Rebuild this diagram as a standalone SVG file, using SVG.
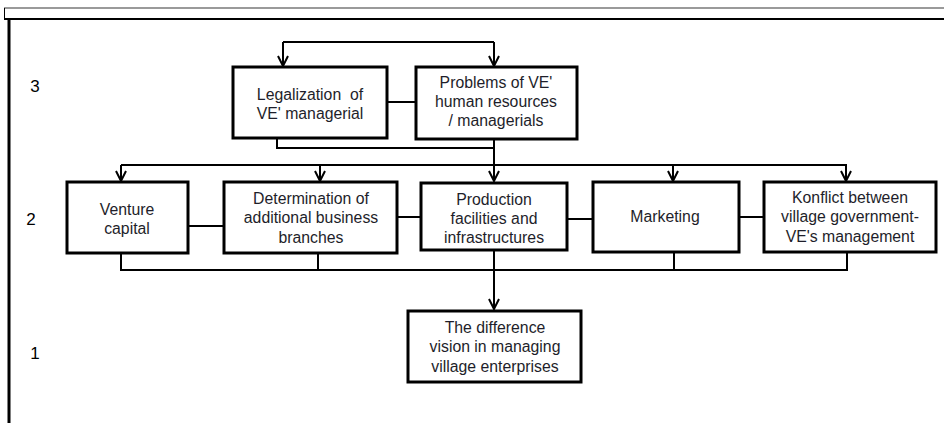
<svg xmlns="http://www.w3.org/2000/svg" width="944" height="423" viewBox="0 0 944 423">
<style>
.box{fill:#fff;stroke:#000;stroke-width:3}
.ln{fill:none;stroke:#000;stroke-width:2}
.t{font-family:"Liberation Sans",Arial,sans-serif;font-size:15.8px;fill:#1e1e2a;text-anchor:middle}
.n{font-family:"Liberation Sans",Arial,sans-serif;font-size:17px;fill:#000;text-anchor:middle}
</style>
<defs>
<marker id="ah" viewBox="0 0 12 12" refX="11" refY="6" markerWidth="12" markerHeight="12" markerUnits="userSpaceOnUse" orient="auto">
<path d="M1,1 L11,6 L1,11" fill="none" stroke="#000" stroke-width="2"/>
</marker>
</defs>
<rect width="944" height="423" fill="#fff"/>
<g id="frame">
<line x1="4" y1="8" x2="944" y2="8" stroke="#9a9a9a" stroke-width="2"/>
<line x1="4.5" y1="8" x2="4.5" y2="19" stroke="#000" stroke-width="1"/>
<line x1="4" y1="19" x2="944" y2="19" stroke="#000" stroke-width="2"/>
<line x1="9" y1="19" x2="9" y2="423" stroke="#000" stroke-width="3"/>
</g>
<g id="levels">
<text class="n" x="35" y="92">3</text>
<text class="n" x="31" y="225">2</text>
<text class="n" x="35" y="359">1</text>
</g>
<g id="connectors">
<path class="ln" d="M283,42 H494"/>
<path class="ln" d="M283,42 V66" marker-end="url(#ah)"/>
<path class="ln" d="M494,42 V66" marker-end="url(#ah)"/>
<path class="ln" d="M387,102 H415"/>
<path class="ln" d="M277,138 V148 H494"/>
<path class="ln" d="M494,139 V181" marker-end="url(#ah)"/>
<path class="ln" d="M121,165 H847"/>
<path class="ln" d="M121,165 V181" marker-end="url(#ah)"/>
<path class="ln" d="M320,165 V181" marker-end="url(#ah)"/>
<path class="ln" d="M673,165 V181" marker-end="url(#ah)"/>
<path class="ln" d="M846,165 V181" marker-end="url(#ah)"/>
<path class="ln" d="M188,226 H224"/>
<path class="ln" d="M397,217 H421"/>
<path class="ln" d="M567,219 H593"/>
<path class="ln" d="M739,217 H764"/>
<path class="ln" d="M121,253 V270 H847 V252"/>
<path class="ln" d="M318,253 V270"/>
<path class="ln" d="M674,252 V270"/>
<path class="ln" d="M494,250 V309" marker-end="url(#ah)"/>
</g>
<g id="legalization">
<rect class="box" x="233" y="67" width="154" height="71"/>
<text class="t" x="310" y="100">Legalization&#160; of</text>
<text class="t" x="310" y="119">VE' managerial</text>
</g>
<g id="problems">
<rect class="box" x="416" y="67" width="161" height="72"/>
<text class="t" x="496" y="88">Problems of VE'</text>
<text class="t" x="496" y="107">human resources</text>
<text class="t" x="496" y="126">/ managerials</text>
</g>
<g id="venture">
<rect class="box" x="67" y="182" width="121" height="71"/>
<text class="t" x="127" y="215">Venture</text>
<text class="t" x="127" y="234">capital</text>
</g>
<g id="determination">
<rect class="box" x="224" y="182" width="173" height="71"/>
<text class="t" x="311" y="204">Determination of</text>
<text class="t" x="311" y="223">additional business</text>
<text class="t" x="311" y="243">branches</text>
</g>
<g id="production">
<rect class="box" x="421" y="183" width="146" height="67"/>
<text class="t" x="494" y="205">Production</text>
<text class="t" x="494" y="224">facilities and</text>
<text class="t" x="494" y="243">infrastructures</text>
</g>
<g id="marketing">
<rect class="box" x="593" y="182" width="146" height="70"/>
<text class="t" x="665" y="222">Marketing</text>
</g>
<g id="konflict">
<rect class="box" x="764" y="182" width="172" height="70"/>
<text class="t" x="850" y="203">Konflict between</text>
<text class="t" x="850" y="222">village government-</text>
<text class="t" x="850" y="242">VE's management</text>
</g>
<g id="difference">
<rect class="box" x="408" y="311" width="173" height="71"/>
<text class="t" x="495" y="333">The difference</text>
<text class="t" x="495" y="352">vision in managing</text>
<text class="t" x="495" y="372">village enterprises</text>
</g>
</svg>
